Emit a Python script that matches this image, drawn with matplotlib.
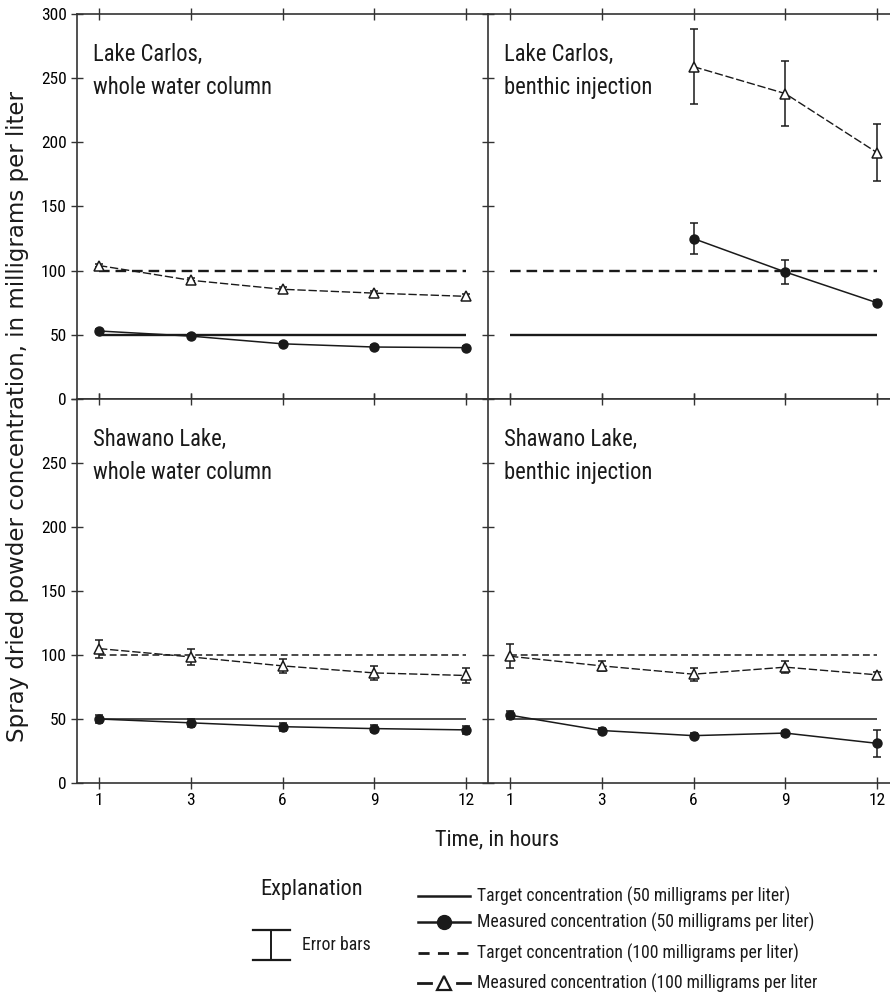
import matplotlib
matplotlib.use("Agg")
import matplotlib.pyplot as plt
from matplotlib import font_manager
from matplotlib.lines import Line2D

# narrow font for the panel text if we have one
NARROW = "DejaVu Sans"
for cand in ["Liberation Sans Narrow", "Roboto Condensed", "Open Sans Condensed"]:
    try:
        font_manager.findfont(cand, fallback_to_default=False)
        NARROW = cand
        break
    except Exception:
        pass

hours = ["1", "3", "6", "9", "12"]

# Lake Carlos, whole water column
lc_w_50 = [53, 49, 43, 40.5, 40]
lc_w_50_err = [1.5, 1.5, 1.5, 1.5, 1.5]
lc_w_100 = [104, 92.5, 85.5, 82.5, 80]
lc_w_100_err = [1.5, 1.5, 1.5, 1.5, 1.5]

# Lake Carlos, benthic injection (no samples before 6 h)
lc_b_idx = [2, 3, 4]
lc_b_50 = [125, 99, 75]
lc_b_50_err = [12, 9.5, 2]
lc_b_100 = [259, 238, 192]
lc_b_100_err = [29, 25, 22]

# Shawano Lake, whole water column
sl_w_50 = [50, 47, 44, 42.5, 41.5]
sl_w_50_err = [3.5, 3, 3, 3, 3]
sl_w_100 = [105, 98.5, 91.5, 86, 84]
sl_w_100_err = [7, 6, 5.5, 5.5, 6]

# Shawano Lake, benthic injection
sl_b_50 = [53, 41, 37, 39, 31]
sl_b_50_err = [3, 2, 2, 2, 10.5]
sl_b_100 = [99, 91.5, 85, 90.5, 84.5]
sl_b_100_err = [9.5, 4, 5, 4.5, 2]

targets = [50, 100]
titles = [["Lake Carlos,\nwhole water column", "Lake Carlos,\nbenthic injection"],
          ["Shawano Lake,\nwhole water column", "Shawano Lake,\nbenthic injection"]]

W, H = 890, 996
fig = plt.figure(figsize=(W / 100, H / 100), dpi=100)

def px_axes(x0, x1, ytop, ybot):
    return fig.add_axes([x0 / W, 1 - ybot / H, (x1 - x0) / W, (ybot - ytop) / H])

axes = [[px_axes(77, 488, 14, 399), px_axes(488, 899, 14, 399)],
        [px_axes(77, 488, 399, 783), px_axes(488, 899, 399, 783)]]

K = "#1a1a1a"
DASH_T = (4.5, 2.5)
DASH_M = (6, 2)

def draw(ax, xs, m50, e50, m100, e100, top):
    lw_t = 1.7 if top else 1.1
    ax.plot([0, 4], [targets[0]] * 2, color=K, lw=lw_t, solid_capstyle="butt")
    ax.plot([0, 4], [targets[1]] * 2, color=K, lw=lw_t, dashes=DASH_T)
    ax.errorbar(xs, m50, yerr=e50, color=K, lw=1.1, marker="o", ms=6.5,
                capsize=3, elinewidth=1.1, capthick=1.1, zorder=4)
    ax.errorbar(xs, m100, yerr=e100, color=K, lw=1.0, marker="^", ms=6.5,
                mfc="white", mec=K, mew=1.1, dashes=DASH_M,
                capsize=3, elinewidth=1.1, capthick=1.1, zorder=4)

draw(axes[0][0], range(5), lc_w_50, lc_w_50_err, lc_w_100, lc_w_100_err, True)
draw(axes[0][1], lc_b_idx, lc_b_50, lc_b_50_err, lc_b_100, lc_b_100_err, True)
draw(axes[1][0], range(5), sl_w_50, sl_w_50_err, sl_w_100, sl_w_100_err, False)
draw(axes[1][1], range(5), sl_b_50, sl_b_50_err, sl_b_100, sl_b_100_err, False)

for r in range(2):
    for c in range(2):
        ax = axes[r][c]
        ax.set_xlim(-0.24, 4.24)
        ax.set_ylim(0, 300)
        ax.set_xticks(range(5))
        ax.set_yticks(range(0, 301, 50))
        ax.tick_params(direction="inout", length=9, width=1, color="#333333",
                       top=True, bottom=True, left=True, right=False,
                       labelsize=12.5, pad=3)
        for s in ax.spines.values():
            s.set_color("#333333")
            s.set_linewidth(1.2)
        ax.spines["right"].set_visible(False)
        if r == 1:
            ax.set_xticklabels(hours, fontfamily=NARROW)
        else:
            ax.set_xticklabels([])
        if c == 0:
            labs = [str(v) for v in range(0, 301, 50)]
            if r == 1:
                labs[-1] = ""
            ax.set_yticklabels(labs, fontfamily=NARROW)
        else:
            ax.set_yticklabels([])
        ax.text(0.04, 0.925, titles[r][c], transform=ax.transAxes, ha="left", va="top",
                fontsize=16.3, fontfamily=NARROW, color=K, linespacing=1.55)

ylab = fig.text(18 / W, 1 - 416 / H, "Spray dried powder concentration, in milligrams per liter",
                rotation=90, ha="center", va="center", fontsize=16, color=K)
# scale the long y label so it spans the same height as in the reference (~653 px)
rend = fig.canvas.get_renderer()
ext = ylab.get_window_extent(renderer=rend)
ylab.set_fontsize(16 * 653 / ext.height)

fig.text(497 / W, 1 - 840 / H, "Time, in hours", ha="center", va="center",
         fontsize=16, fontfamily=NARROW, color=K)

# explanation block
fig.text(312 / W, 1 - 889 / H, "Explanation", ha="center", va="center",
         fontsize=16, fontfamily=NARROW, color=K)
lg = fig.add_axes([0, 0, 1, 1], facecolor="none")
lg.set_xlim(0, W)
lg.set_ylim(H, 0)
lg.axis("off")
lg.add_line(Line2D([271, 271], [930, 960], color=K, lw=1.4))
lg.add_line(Line2D([253, 290], [930, 930], color=K, lw=1.6))
lg.add_line(Line2D([253, 290], [960, 960], color=K, lw=1.6))
lg.text(302, 945, "Error bars", ha="left", va="center", fontsize=12.8,
        fontfamily=NARROW, color=K)

rows_y = [896, 922, 953, 983]
labels = ["Target concentration (50 milligrams per liter)",
          "Measured concentration (50 milligrams per liter)",
          "Target concentration (100 milligrams per liter)",
          "Measured concentration (100 milligrams per liter"]
lg.plot([418, 470], [rows_y[0]] * 2, color=K, lw=1.8)
lg.plot([418, 470], [rows_y[1]] * 2, color=K, lw=1.8)
lg.plot([444], [rows_y[1]], "o", color=K, ms=10)
lg.plot([418, 470], [rows_y[2]] * 2, color=K, lw=2.0, dashes=(4, 3))
lg.plot([418, 431], [rows_y[3]] * 2, color=K, lw=2.0)
lg.plot([457, 470], [rows_y[3]] * 2, color=K, lw=2.0)
lg.plot([444], [rows_y[3]], "^", mfc="white", mec=K, mew=1.6, ms=10)
for y, t in zip(rows_y, labels):
    lg.text(477, y, t, ha="left", va="center", fontsize=12.7, fontfamily=NARROW, color=K)

fig.savefig("out.png", dpi=100)
